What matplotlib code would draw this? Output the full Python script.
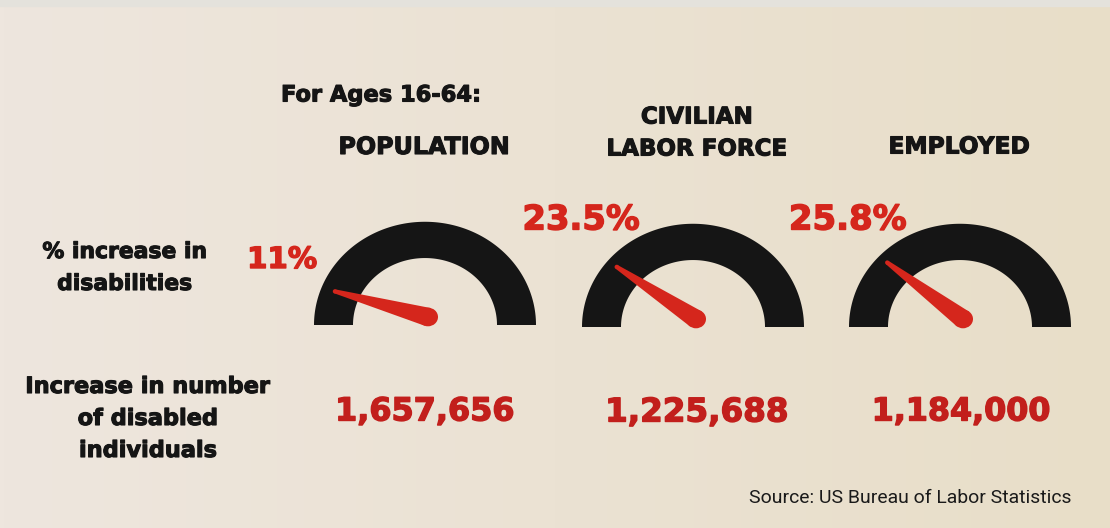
import numpy as np
import matplotlib
matplotlib.use("Agg")
import matplotlib.pyplot as plt
import matplotlib.patheffects as pe
from matplotlib.patches import Polygon, Ellipse

# ---- data ----
categories = ["POPULATION", "CIVILIAN\nLABOR FORCE", "EMPLOYED"]
pct_increase = [11.0, 23.5, 25.8]
pct_labels = ["11%", "23.5%", "25.8%"]
count_increase = [1657656, 1225688, 1184000]
row_labels = ["% increase in\ndisabilities", "Increase in number\nof disabled\nindividuals"]
header = "For Ages 16-64:"
source = "Source: US Bureau of Labor Statistics"
gauge_max = 120.0

# ---- style ----
W, H = 1110, 528
RED = "#d5261c"
NUM_RED = "#c21f1c"
BLACK = "#151515"
FONT = ["DejaVu Sans"]

fig = plt.figure(figsize=(W / 100, H / 100), dpi=100)
ax = fig.add_axes([0, 0, 1, 1])
ax.set_xlim(0, W)
ax.set_ylim(H, 0)
ax.axis("off")
renderer = fig.canvas.get_renderer()

# background gradient (cream)
left = np.array([238, 230, 222]) / 255
right = np.array([232, 222, 200]) / 255
t = np.linspace(0, 1, 256)[None, :, None]
grad = left * (1 - t) + right * t
ax.imshow(grad, extent=[0, W, H, 0], aspect="auto", zorder=0)
ax.fill_between([0, W], 0, 6, color="#e4e2dc", zorder=0.5)

centers_x = [425, 693, 960]
centers_y = [325, 327, 327]
r_out, r_in, sy = 111, 72, 0.93


def arc_poly(cx, cy, r1, r2):
    th = np.linspace(0, np.pi, 200)
    xo = cx + r1 * np.cos(th)
    yo = cy - sy * r1 * np.sin(th)
    xi = cx + r2 * np.cos(th[::-1])
    yi = cy - sy * r2 * np.sin(th[::-1])
    return np.column_stack([np.r_[xo, xi], np.r_[yo, yi]])


for i in range(3):
    cx, cy = centers_x[i], centers_y[i]
    ax.add_patch(Polygon(arc_poly(cx, cy, r_out, r_in), closed=True,
                         facecolor=BLACK, edgecolor="none", zorder=2))
    # needle
    ang = np.deg2rad(180 - pct_increase[i] / gauge_max * 180)
    px, py = cx + 3, cy - 8
    L = 97
    w0, w1 = 10, 2.2
    ux, uy = np.cos(ang), np.sin(ang)
    nx, ny = -uy, ux
    pts = [
        (px + nx * w0, py - sy * ny * w0),
        (px + ux * L + nx * w1, py - sy * (uy * L + ny * w1)),
        (px + ux * L - nx * w1, py - sy * (uy * L - ny * w1)),
        (px - nx * w0, py + sy * ny * w0),
    ]
    ax.add_patch(Polygon(pts, closed=True, facecolor=RED, edgecolor="none", zorder=3))
    ax.add_patch(Ellipse((px, py), 2 * w0, 2 * w0 * sy, facecolor=RED,
                         edgecolor="none", zorder=3))
    ax.add_patch(Ellipse((px + ux * L, py - sy * uy * L), 2 * w1, 2 * w1,
                         facecolor=RED, edgecolor="none", zorder=3))


def fit_text(x, y, s, width_px, line_px=None, family=FONT, weight="bold",
             color=BLACK, stroke=0.8):
    """Place centred text whose widest line spans width_px pixels."""
    lines = s.split("\n")
    widest = max(lines, key=len)
    probe = ax.text(0, 0, widest, fontsize=20, family=family, fontweight=weight)
    w = probe.get_window_extent(renderer).width
    probe.remove()
    size = 20 * width_px / w
    best = 0
    for ln in lines:
        p = ax.text(0, 0, ln, fontsize=size, family=family, fontweight=weight)
        best = max(best, p.get_window_extent(renderer).width)
        p.remove()
    size *= width_px / best
    n = len(lines)
    step = line_px if line_px else 0
    effects = [pe.withStroke(linewidth=stroke, foreground=color)] if stroke else None
    for k, ln in enumerate(lines):
        ax.text(x, y + (k - (n - 1) / 2) * step, ln, ha="center", va="center",
                fontsize=size, family=family, fontweight=weight, color=color,
                zorder=4, path_effects=effects)


# headers
fit_text(381, 95, header, 200)
cat_x = [424, 697, 959]
cat_y = [147, 133, 147]
cat_w = [172, 181, 141]
for i, c in enumerate(categories):
    fit_text(cat_x[i], cat_y[i], c, cat_w[i], line_px=32)

# row labels
fit_text(125, 268, row_labels[0], 165, line_px=32)
fit_text(148, 419, row_labels[1], 245, line_px=32)

# pct labels
pct_x = [282, 581, 848]
pct_y = [260, 220, 220]
pct_w = [70, 117, 118]
for i, s in enumerate(pct_labels):
    fit_text(pct_x[i], pct_y[i], s, pct_w[i], color=RED, stroke=1.0)

# counts
num_x = [425, 697, 961]
num_w = [180, 183, 178]
for i, v in enumerate(count_increase):
    fit_text(num_x[i], 412, f"{v:,}", num_w[i], color=NUM_RED, stroke=1.0)

fit_text(910, 498, source, 323, family=["Roboto", "DejaVu Sans"], weight="normal",
         color="#1a1a1a", stroke=0)

fig.savefig("out.png", dpi=100, facecolor=fig.get_facecolor())
